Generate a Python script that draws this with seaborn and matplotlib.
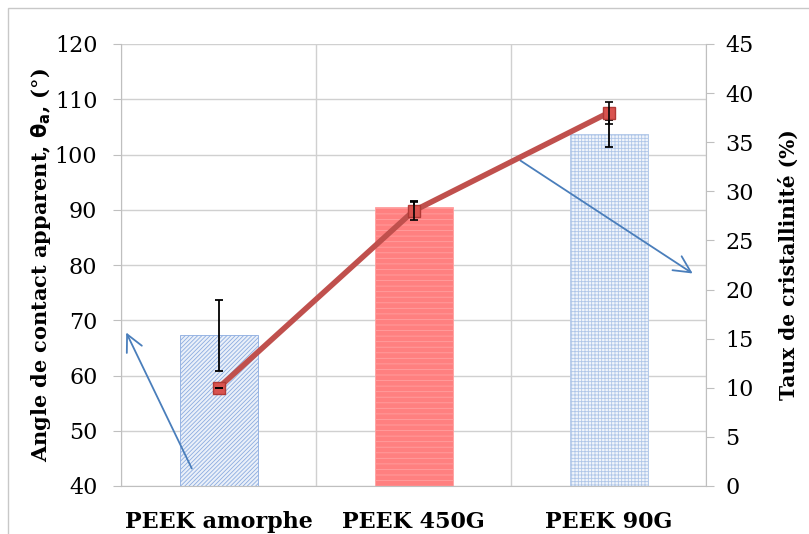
import numpy as np
import pandas as pd
import matplotlib
matplotlib.use("Agg")
import matplotlib.pyplot as plt
import seaborn as sns

# Data
categories = ["PEEK amorphe", "PEEK 450G", "PEEK 90G"]
contact_angle = [67.3, 90.5, 103.8]        # left axis, bars
contact_angle_err = [6.4, 1.0, 2.5]
crystallinity = [10.0, 28.0, 38.0]         # right axis, line
crystallinity_err = [0.0, 0.9, 1.1]

left_ticks = [40, 50, 60, 70, 80, 90, 100, 110, 120]
right_ticks = [0, 5, 10, 15, 20, 25, 30, 35, 40, 45]

sns.set_style("white")
plt.rcParams['font.family'] = ['DejaVu Serif']
plt.rcParams['hatch.linewidth'] = 0.6
for key in ['text.color', 'axes.labelcolor', 'xtick.labelcolor', 'ytick.labelcolor']:
    plt.rcParams[key] = 'black'

df = pd.DataFrame({"cat": categories, "angle": contact_angle})

fig = plt.figure(figsize=(8.09, 5.34), dpi=100)
ax = fig.add_axes([121 / 809, 1 - 486 / 534, 585 / 809, 442 / 534])

sns.barplot(data=df, x="cat", y="angle", ax=ax, width=0.4, errorbar=None,
            bottom=0, zorder=2)
ax.set_ylim(40, 120)

# bar styles: diagonal hatch, solid red, fine grid
styles = [
    dict(face="#eaf0f9", edge="#8cace0", hatch="////////"),
    dict(face="#ff8080", edge="#ffa0a0", hatch="---"),
    dict(face="#f1f5fb", edge="#afc6e8", hatch="+++++"),
]
for patch, st in zip(ax.patches, styles):
    patch.set_facecolor(st["face"])
    patch.set_edgecolor(st["edge"])
    patch.set_hatch(st["hatch"])
    patch.set_linewidth(0.6)

xpos = np.arange(len(categories))
ax.errorbar(xpos, contact_angle, yerr=contact_angle_err, fmt="none",
            ecolor="black", elinewidth=1.3, capsize=3, capthick=1.3, zorder=4)

ax.set_xlim(-0.5, 2.5)
ax.set_yticks(left_ticks)
ax.set_xticks(xpos)
ax.set_xticklabels(categories, fontsize=16, fontweight="bold")
ax.set_xticks([-0.5, 0.5, 1.5, 2.5], minor=True)
ax.tick_params(axis="x", which="major", length=0, pad=18)
ax.tick_params(axis="x", which="minor", length=6, color="#bfbfbf", direction="out")
ax.tick_params(axis="y", length=6, color="#bfbfbf", direction="out", labelsize=16, pad=11)
ax.yaxis.grid(True, color="#d0d0d0", linewidth=1.0, zorder=0)
ax.xaxis.grid(True, which="minor", color="#d0d0d0", linewidth=1.0, zorder=0)
ax.set_axisbelow(True)
ax.set_xlabel("")
ax.set_ylabel(r"Angle de contact apparent, $\mathbf{\theta_a}$, (°)",
              fontsize=15, fontweight="bold", labelpad=1)
for side in ["top", "right"]:
    ax.spines[side].set_visible(False)
for side in ["left", "bottom"]:
    ax.spines[side].set_color("#bfbfbf")

# crystallinity on right axis
ax2 = ax.twinx()
ax2.set_ylim(0, 45)
ax2.plot(xpos, crystallinity, color="#c0504d", linewidth=4, marker="s",
         markersize=8, markerfacecolor="#d9534f", markeredgecolor="#b03a36", zorder=5)
ax2.errorbar(xpos, crystallinity, yerr=crystallinity_err, fmt="none",
             ecolor="black", elinewidth=1.2, capsize=3, capthick=1.2, zorder=6)
ax2.set_yticks(right_ticks)
ax2.tick_params(axis="y", length=6, color="#bfbfbf", direction="out", labelsize=16, pad=8)
ax2.set_ylabel("Taux de cristallinité (%)", fontsize=14.5, fontweight="bold", labelpad=18)
for side in ["top", "left", "bottom"]:
    ax2.spines[side].set_visible(False)
ax2.spines["right"].set_color("#bfbfbf")

# blue arrows pointing to each axis
arrow = dict(arrowstyle="->", color="#4a7ebb", lw=1.3, mutation_scale=30)
ax.annotate("", xy=(125 / 809, 1 - 330 / 534), xytext=(193 / 809, 1 - 471 / 534),
            xycoords="figure fraction", textcoords="figure fraction", arrowprops=arrow)
ax.annotate("", xy=(695 / 809, 1 - 275 / 534), xytext=(518 / 809, 1 - 159 / 534),
            xycoords="figure fraction", textcoords="figure fraction", arrowprops=arrow)

# light outer frame
fig.add_artist(plt.Rectangle((8 / 809, -0.01), 1.2, 1 - 8 / 534 + 0.01,
                             transform=fig.transFigure, fill=False,
                             edgecolor="#c8c8c8", linewidth=1))

fig.savefig("out.png", dpi=100)
